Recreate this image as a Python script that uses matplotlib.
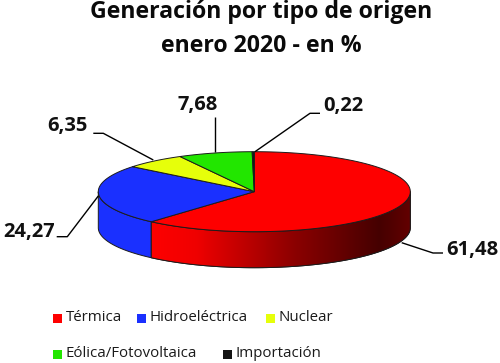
import numpy as np
import matplotlib
matplotlib.use("Agg")
import matplotlib.pyplot as plt
from matplotlib.patches import Polygon, Rectangle
from matplotlib.colors import LinearSegmentedColormap

# Data
categories = ["Térmica", "Hidroeléctrica", "Nuclear", "Eólica/Fotovoltaica", "Importación"]
values = [61.48, 24.27, 6.35, 7.68, 0.22]
value_labels = ["61,48", "24,27", "6,35", "7,68", "0,22"]
colors = ["#fe0000", "#1a30ff", "#e6ff0a", "#22e600", "#151515"]

plt.rcParams["font.family"] = ["Open Sans", "DejaVu Sans"]

# pie geometry, in pixels of the 500x363 picture
cx, cy = 254.3, 191.7
a, b = 156.0, 40.0
depth = 36.0
edge = "#1c1c1c"


def ellipse_pts(t0, t1):
    # angles clockwise from top
    t = np.radians(np.linspace(t0, t1, max(int(abs(t1 - t0)) * 2, 2)))
    return cx + a * np.sin(t), cy - b * np.cos(t)


def wall_poly(t0, t1):
    x, y = ellipse_pts(t0, t1)
    return np.column_stack([np.r_[x, x[::-1]], np.r_[y, y[::-1] + depth]])


fig = plt.figure(figsize=(5.0, 3.63), dpi=100)
ax = fig.add_axes([0, 0, 1, 1])
ax.set_xlim(0, 500)
ax.set_ylim(363, 0)
ax.axis("off")

angles = np.r_[0, np.cumsum(values)] / sum(values) * 360

# side wall, only the front half (90..270) is visible
wall_cmap = LinearSegmentedColormap.from_list(
    "wall", [(0, "#fe0000"), (0.17, "#f00000"), (0.55, "#8c0000"), (0.88, "#450000"), (1, "#640000")]
)
for i in range(len(values)):
    t0, t1 = max(angles[i], 90), min(angles[i + 1], 270)
    if t1 <= t0:
        continue
    poly = Polygon(wall_poly(t0, t1), closed=True, fc=colors[i], ec=edge, lw=0.7, zorder=2)
    ax.add_patch(poly)
    if i == 0:
        x_min, x_max = poly.get_xy()[:, 0].min(), poly.get_xy()[:, 0].max()
        im = ax.imshow(np.linspace(0, 1, 256)[None, :], cmap=wall_cmap, aspect="auto",
                       extent=(x_min, x_max, cy + b + depth + 2, cy - 5), zorder=2.1)
        im.set_clip_path(poly)
        ax.set_xlim(0, 500)
        ax.set_ylim(363, 0)
        ax.add_patch(Polygon(poly.get_xy(), closed=True, fc="none", ec=edge, lw=0.7, zorder=2.2))

# top face
for i in range(len(values)):
    x, y = ellipse_pts(angles[i], angles[i + 1])
    pts = np.column_stack([np.r_[cx, x], np.r_[cy, y]])
    ax.add_patch(Polygon(pts, closed=True, fc=colors[i], ec=edge, lw=0.7, zorder=3))

# leader lines
leaders = [
    ([401.7, 433, 443], [242.7, 253, 253]),
    ([98.3, 67.3, 56.7], [196, 236.7, 236.7]),
    ([153.3, 103.3, 93.3], [160, 133.3, 133.3]),
    ([215, 215], [151.7, 117]),
    ([255, 310, 320], [151.7, 113.3, 113.3]),
]
for lx, ly in leaders:
    ax.plot(lx, ly, color="black", lw=1.0, zorder=4, solid_capstyle="butt")

# value labels
label_pos = [(446, 250), (3, 232), (47, 126), (178, 105), (323, 106)]
for txt, (lx, ly) in zip(value_labels, label_pos):
    ax.text(lx, ly, txt, fontsize=14.5, fontweight="bold", color="#111111", ha="left", va="center")

# title
ax.text(261, 18.5, "Generación por tipo de origen", fontsize=16.7, fontweight="bold",
        color="#0a0a0a", ha="center", va="baseline")
ax.text(261.5, 52, "enero 2020 - en %", fontsize=16.7, fontweight="bold",
        color="#0a0a0a", ha="center", va="baseline")

# legend
legend_pos = [(53, 318), (137, 318), (266, 318), (53, 354), (223, 354)]
for name, col, (lx, ly) in zip(categories, colors, legend_pos):
    ax.add_patch(Rectangle((lx, ly - 4), 8.5, 8.5, fc=col, ec="none"))
    ax.text(lx + 12.5, ly - 0.5, name, fontsize=10.8, color="#1a1a1a", ha="left", va="center")

fig.savefig("out.png", dpi=100)
